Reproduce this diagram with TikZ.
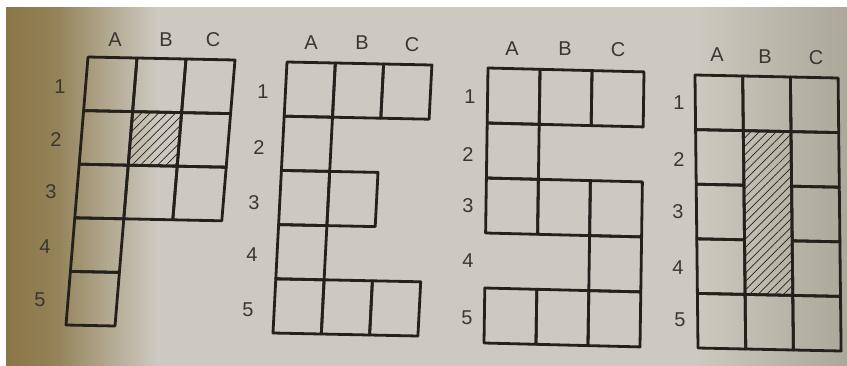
\documentclass[tikz,border=0pt]{standalone}
\usepackage{fontspec}
\setmainfont{Liberation Sans}
\usetikzlibrary{patterns.meta}
\definecolor{paper}{RGB}{204,201,192}
\definecolor{paperdark}{RGB}{172,167,152}
\definecolor{shadow}{RGB}{138,118,70}
\definecolor{ink}{RGB}{36,32,28}
\pgfdeclarehorizontalshading{bgshade}{100bp}{color(0bp)=(shadow); color(25bp)=(shadow); color(28bp)=(shadow!85!paper); color(31bp)=(shadow!40!paper); color(34bp)=(paper); color(66bp)=(paper); color(75bp)=(paperdark); color(100bp)=(paperdark)}
\tikzset{
  gridline/.style={draw=ink, line width=2.8pt, line join=round, line cap=round},
  hatch/.style={pattern={Lines[angle=45,distance=6pt,line width=0.7pt]}, pattern color=ink},
  lbl/.style={text=ink!90, font=\fontsize{20}{20}\selectfont, inner sep=0pt}
}
\newcommand{\cellbox}[3][]{\draw[gridline,#1] (#2,#3) -- ++(1,0) -- ++(0,1) -- ++(-1,0) -- cycle;}
\begin{document}
\begin{tikzpicture}[x=1pt,y=-1pt]
\useasboundingbox (0,0) rectangle (847,365);
\fill[white] (0,0) rectangle (847,365);
\shade[shading=bgshade] (6,7) rectangle (847,365);
% ---------- P ----------
\begin{scope}[shift={(88,57)}, x={(49pt,-1pt)}, y={(-4.4pt,-53.6pt)}]
  \foreach \i/\j in {0/0,1/0,2/0,0/1,2/1,0/2,1/2,2/2,0/3,0/4} {\cellbox{\i}{\j}}
  \cellbox[hatch]{1}{1}
\end{scope}
\node[lbl] (p-A) at (115,40) {A};
\node[lbl] (p-B) at (166,40) {B};
\node[lbl] (p-C) at (213,40) {C};
\node[lbl] (p-1) at (60,87) {1};
\node[lbl] (p-2) at (56,140) {2};
\node[lbl] (p-3) at (51,192) {3};
\node[lbl] (p-4) at (45,247) {4};
\node[lbl] (p-5) at (40,300) {5};
% ---------- E ----------
\begin{scope}[shift={(287,62)}, x={(48.3pt,-1pt)}, y={(-2.8pt,-54.2pt)}]
  \foreach \i/\j in {0/0,1/0,2/0,0/1,0/2,1/2,0/3,0/4,1/4,2/4} {\cellbox{\i}{\j}}
\end{scope}
\node[lbl] (e-A) at (311,43) {A};
\node[lbl] (e-B) at (362,43) {B};
\node[lbl] (e-C) at (412,45) {C};
\node[lbl] (e-1) at (263,92) {1};
\node[lbl] (e-2) at (259,148) {2};
\node[lbl] (e-3) at (254,203) {3};
\node[lbl] (e-4) at (252,255) {4};
\node[lbl] (e-5) at (248,310) {5};
% ---------- S ----------
\begin{scope}[shift={(488,68)}, x={(52pt,-1.3pt)}, y={(-0.8pt,-55pt)}]
  \foreach \i/\j in {0/0,1/0,2/0,0/1,0/2,1/2,2/2,2/3,0/4,1/4,2/4} {\cellbox{\i}{\j}}
\end{scope}
\node[lbl] (s-A) at (512,49) {A};
\node[lbl] (s-B) at (565,49) {B};
\node[lbl] (s-C) at (618,50) {C};
\node[lbl] (s-1) at (470,97) {1};
\node[lbl] (s-2) at (468,155) {2};
\node[lbl] (s-3) at (468,206) {3};
\node[lbl] (s-4) at (468,261) {4};
\node[lbl] (s-5) at (467,318) {5};
% ---------- I ----------
\begin{scope}[shift={(695,75)}, x={(47.7pt,-1pt)}, y={(0.6pt,-54.6pt)}]
  \foreach \i/\j in {0/0,1/0,2/0,0/1,2/1,0/2,2/2,0/3,2/3,0/4,1/4,2/4} {\cellbox{\i}{\j}}
  \draw[gridline,hatch] (1,1) -- (2,1) -- (2,4) -- (1,4) -- cycle;
\end{scope}
\node[lbl] (i-A) at (717,55) {A};
\node[lbl] (i-B) at (765,57) {B};
\node[lbl] (i-C) at (816,58) {C};
\node[lbl] (i-1) at (679,103) {1};
\node[lbl] (i-2) at (679,160) {2};
\node[lbl] (i-3) at (678,212) {3};
\node[lbl] (i-4) at (678,268) {4};
\node[lbl] (i-5) at (680,320) {5};
\end{tikzpicture}
\end{document}
